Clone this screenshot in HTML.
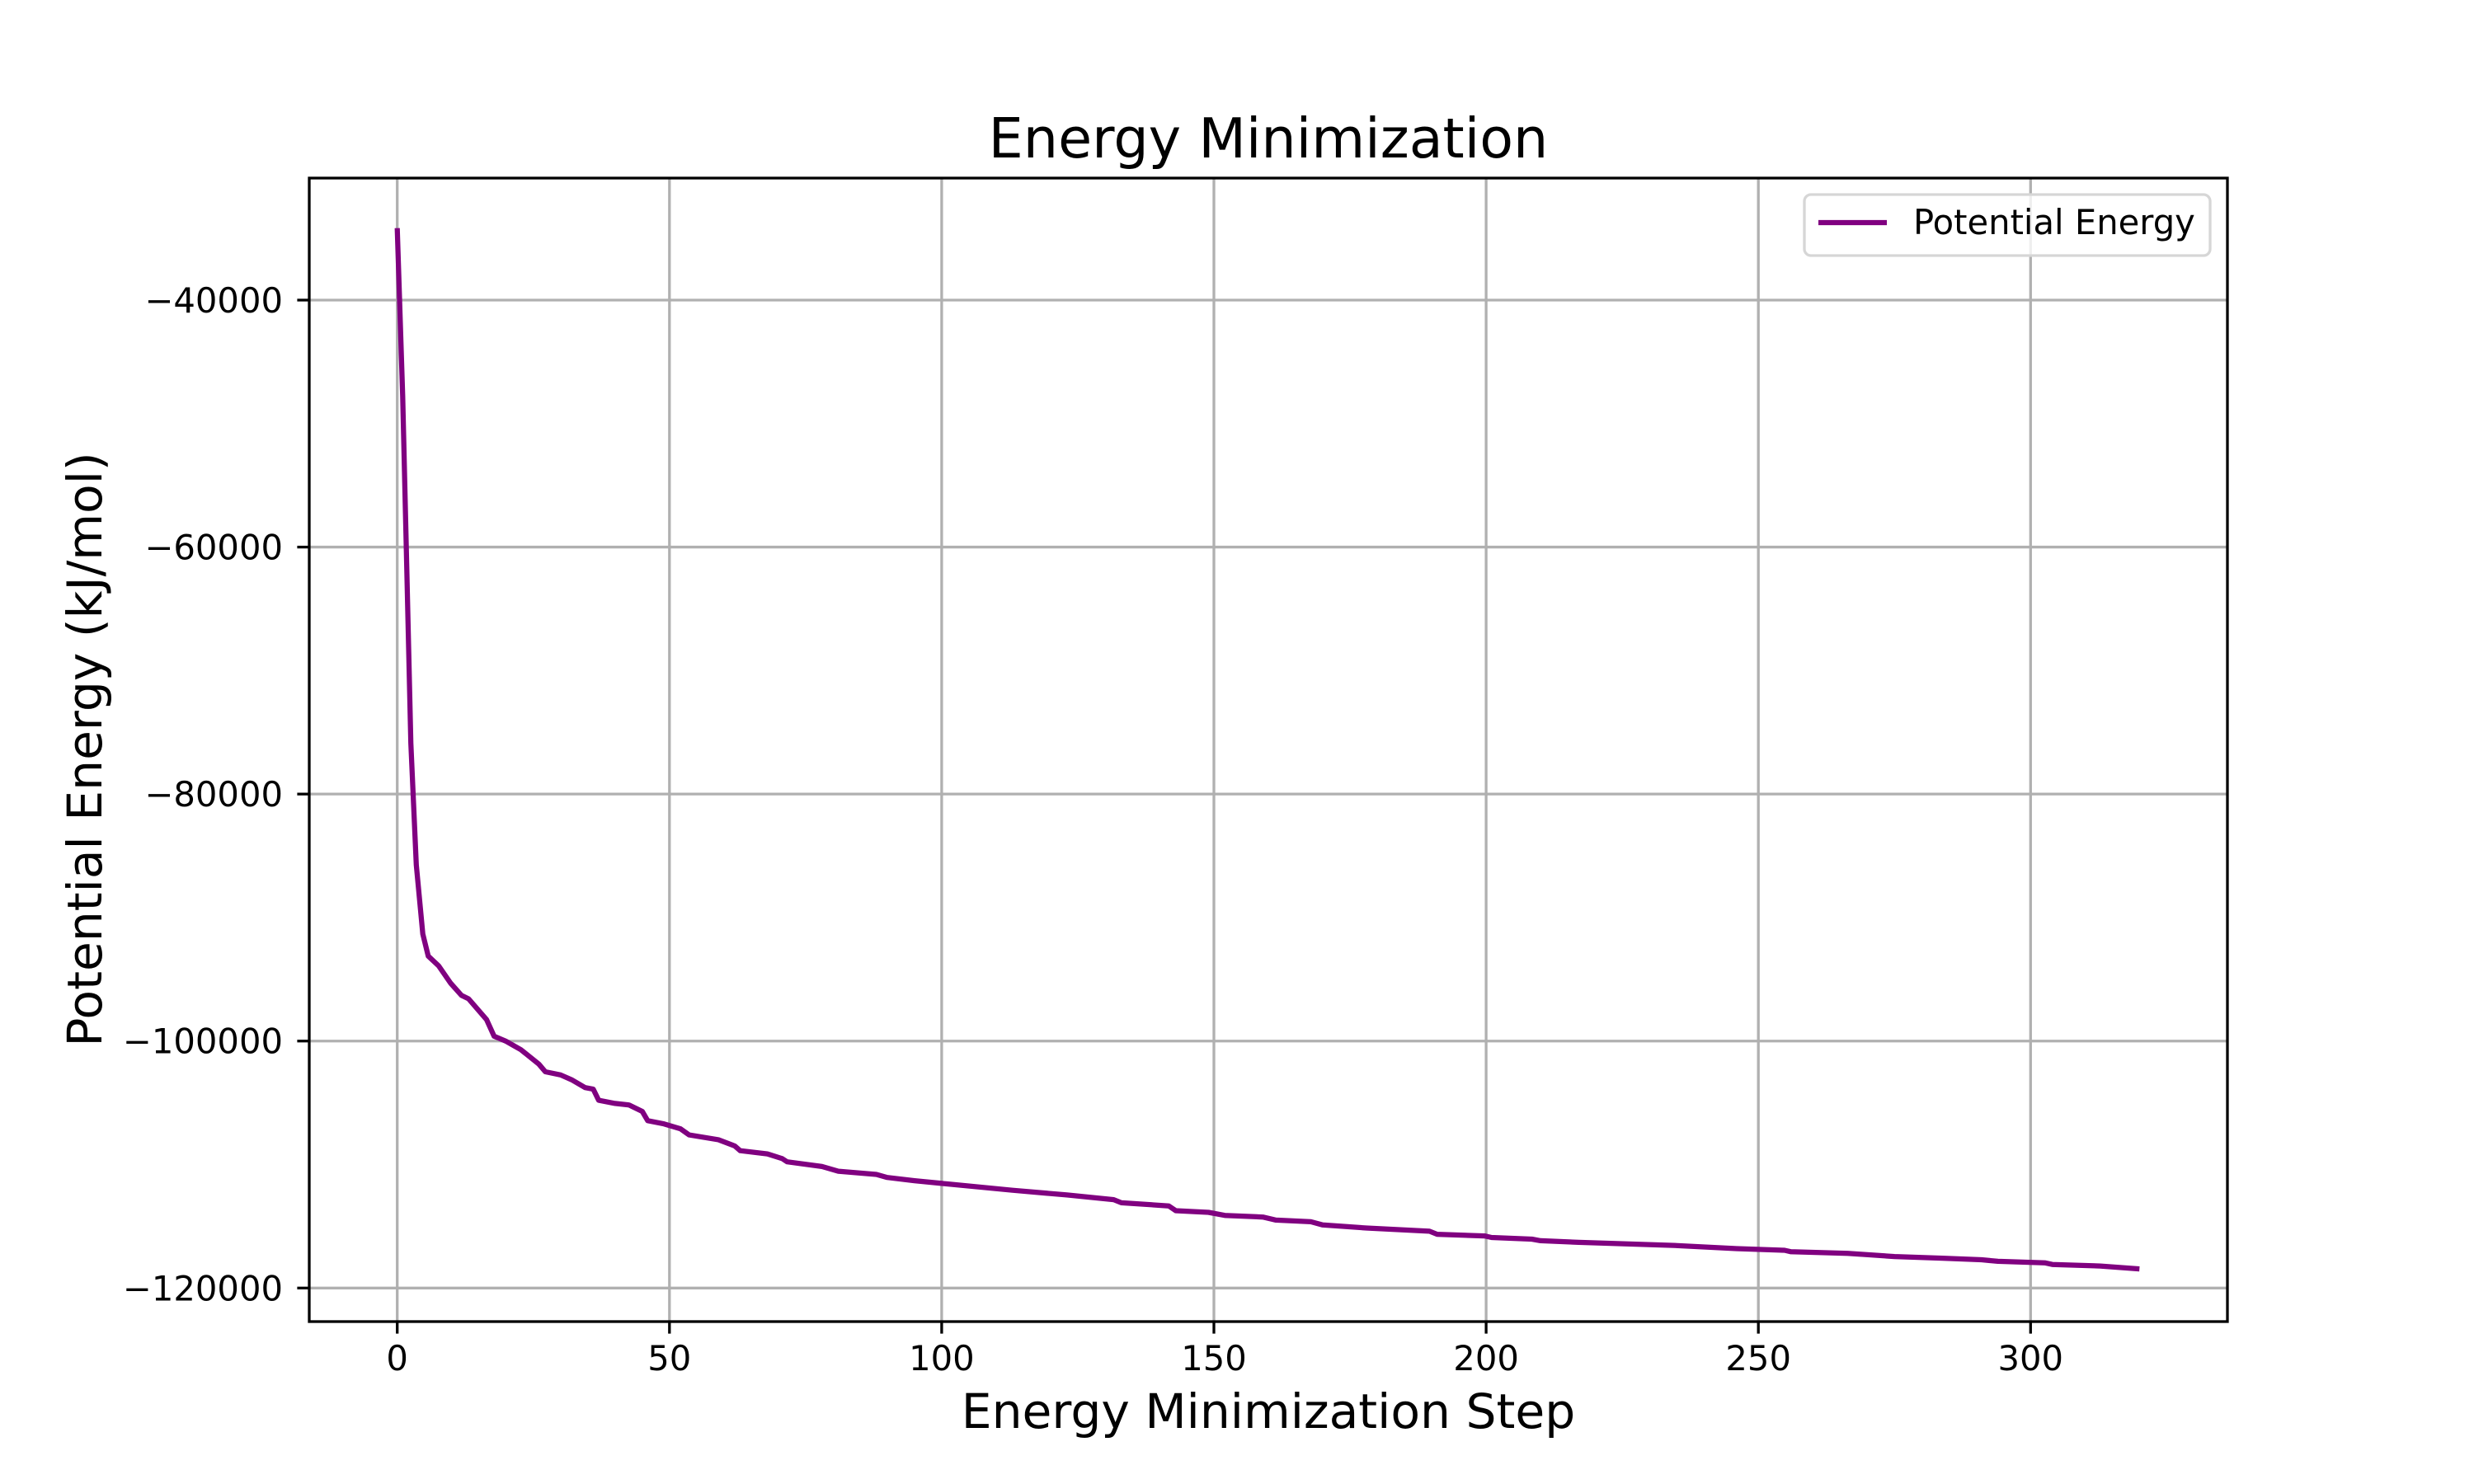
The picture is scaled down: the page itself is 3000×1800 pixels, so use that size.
<!DOCTYPE html>
<html>
<head>
<meta charset="utf-8">
<style>
html,body{margin:0;padding:0;background:#fff;}
svg{display:block;font-family:"DejaVu Sans","Liberation Sans",sans-serif;}
</style>
</head>
<body>
<svg id="chart" width="3000" height="1800" viewBox="0 0 3000 1800" xmlns="http://www.w3.org/2000/svg">
  <rect x="0" y="0" width="3000" height="1800" fill="#fff"/>
  <g id="grid"></g>
  <g id="series"></g>
  <rect x="375" y="216" width="2326" height="1387" fill="none" stroke="#000" stroke-width="3.3"/>
  <g id="ticks"></g>
  <text x="1538" y="191" font-size="66.7" text-anchor="middle">Energy Minimization</text>
  <text x="1538" y="1732" font-size="58.3" text-anchor="middle">Energy Minimization Step</text>
  <text transform="translate(123,909) rotate(-90)" x="0" y="0" font-size="58.3" text-anchor="middle">Potential Energy (kJ/mol)</text>
  <g>
    <rect x="2188" y="236" width="492" height="74" rx="8" ry="8" fill="rgba(255,255,255,0.8)" stroke="#d6d6d6" stroke-width="3.3"/>
    <line x1="2205" y1="270" x2="2288" y2="270" stroke="#800080" stroke-width="6.25"/>
    <text x="2320" y="284" font-size="41.7">Potential Energy</text>
  </g>
</svg>
<script>
const steps = [0,1,1.76,2.5,3.5,4.7,5.7,7.6,9.8,11.8,13.1,16.4,17.8,19.9,22.7,26,27.2,30,32,34.5,36,37,40,42.6,45,46,49,52,53.6,59,62,63,68,70.7,71.6,78,81,88,90,95,101,113,123,131.6,133,141.7,143,149,152,159,161.4,167.8,170,178,189.6,191,199.7,201,208.4,210,217,225.8,234.5,246,254.8,256,266.4,275,283.8,291,294,302.6,304,312.8,320];
const energies = [-34170,-47780,-61830,-75880,-85730,-91330,-93120,-93910,-95310,-96300,-96580,-98260,-99610,-100000,-100700,-101870,-102490,-102740,-103130,-103770,-103900,-104800,-105050,-105180,-105690,-106450,-106710,-107100,-107600,-107990,-108500,-108880,-109140,-109520,-109780,-110160,-110540,-110800,-111050,-111310,-111570,-112080,-112460,-112840,-113100,-113350,-113740,-113870,-114120,-114250,-114500,-114630,-114890,-115140,-115400,-115650,-115780,-115910,-116040,-116170,-116300,-116420,-116550,-116810,-116940,-117060,-117190,-117450,-117580,-117710,-117840,-117960,-118090,-118220,-118450];
const xTicks = [0,50,100,150,200,250,300];
const yTicks = [-40000,-60000,-80000,-100000,-120000];

const NS = "http://www.w3.org/2000/svg";
const PL = 375, PR = 2701, PT = 216, PB = 1603;
function xs(v){ return 481.7 + v * (2462.3 - 481.7) / 300; }
function ys(v){ return 364 + (-40000 - v) * (1562.3 - 364) / 80000; }
function fmt(v){ return v < 0 ? "\u2212" + Math.abs(v) : String(v); }

const grid = document.getElementById("grid");
const ticks = document.getElementById("ticks");
xTicks.forEach(t => {
  const x = xs(t);
  const g = document.createElementNS(NS, "line");
  g.setAttribute("x1", x); g.setAttribute("x2", x); g.setAttribute("y1", PT); g.setAttribute("y2", PB);
  g.setAttribute("stroke", "#b0b0b0"); g.setAttribute("stroke-width", "3.3");
  
  
  grid.appendChild(g);
  const tk = document.createElementNS(NS, "line");
  tk.setAttribute("x1", x); tk.setAttribute("x2", x); tk.setAttribute("y1", PB); tk.setAttribute("y2", PB + 14.6);
  tk.setAttribute("stroke", "#000"); tk.setAttribute("stroke-width", "3.3");
  
  
  ticks.appendChild(tk);
  const lb = document.createElementNS(NS, "text");
  lb.setAttribute("x", x); lb.setAttribute("y", 1662);
  lb.setAttribute("font-size", "41.7"); lb.setAttribute("text-anchor", "middle");
  lb.textContent = fmt(t);
  
  
  ticks.appendChild(lb);
});
yTicks.forEach(t => {
  const y = ys(t);
  const g = document.createElementNS(NS, "line");
  g.setAttribute("x1", PL); g.setAttribute("x2", PR); g.setAttribute("y1", y); g.setAttribute("y2", y);
  g.setAttribute("stroke", "#b0b0b0"); g.setAttribute("stroke-width", "3.3");
  
  
  grid.appendChild(g);
  const tk = document.createElementNS(NS, "line");
  tk.setAttribute("x1", PL - 14.6); tk.setAttribute("x2", PL); tk.setAttribute("y1", y); tk.setAttribute("y2", y);
  tk.setAttribute("stroke", "#000"); tk.setAttribute("stroke-width", "3.3");
  
  
  ticks.appendChild(tk);
  const lb = document.createElementNS(NS, "text");
  lb.setAttribute("x", 343); lb.setAttribute("y", y + 15);
  lb.setAttribute("font-size", "41.7"); lb.setAttribute("text-anchor", "end");
  lb.textContent = fmt(t);
  
  
  ticks.appendChild(lb);
});

const pts = steps.map((s, i) => xs(s).toFixed(1) + "," + ys(energies[i]).toFixed(1)).join(" ");
const line = document.createElementNS(NS, "polyline");
line.setAttribute("points", pts);
line.setAttribute("fill", "none");
line.setAttribute("stroke", "#800080");
line.setAttribute("stroke-width", "6.25");
line.setAttribute("stroke-linejoin", "round");


document.getElementById("series").appendChild(line);
</script>
</body>
</html>
